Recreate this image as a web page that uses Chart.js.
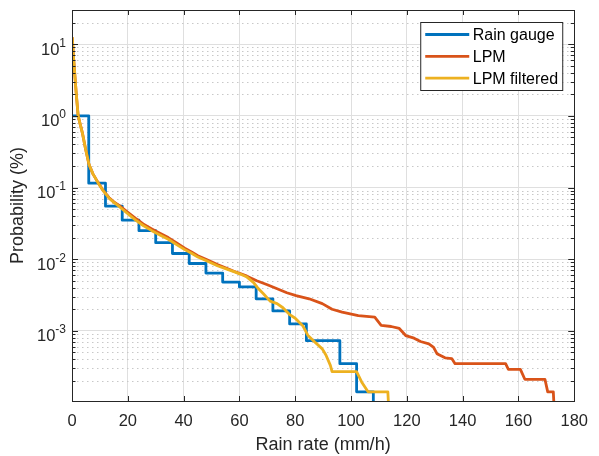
<!DOCTYPE html>
<html>
<head>
<meta charset="utf-8">
<script src="https://cdn.jsdelivr.net/npm/chart.js@4.4.1/dist/chart.umd.min.js"></script>
<style>
  html, body { margin: 0; padding: 0; background: #fff; }
  canvas { display: block; }
</style>
</head>
<body>
<canvas id="probChart" width="599" height="456"></canvas>
<script>
// rain gauge: 0.1 mm tips per minute -> 6 mm/h bins
const gaugeRate = [0, 6, 12, 18, 24, 30, 36, 42, 48, 54, 60, 66, 72, 78, 84, 96, 102, 108];
const gaugeProb = [1.0, 0.115, 0.055, 0.035, 0.025, 0.017, 0.012, 0.0087, 0.0064, 0.0048, 0.0041, 0.0028,
  0.0019, 0.00125, 0.00073, 0.000348, 0.000141, 0.00007];

// laser precipitation monitor, raw
const lpmRate = [0.1, 0.5, 1.0, 1.5, 2.2, 3.0, 3.8, 4.9, 6.1, 7.5, 9.3, 11, 13.3, 15, 17, 20, 22.8, 25.5,
  28.6, 31.5, 34.5, 37.5, 40.4, 43, 45.1, 48, 52.1, 55, 58, 60.3, 62.7, 66.2, 70, 73.3, 77, 80.3, 85,
  89.7, 93.2, 96.8, 102.6, 108.5, 110.8, 114.4, 117.3, 119.6, 122.6, 124.9, 127.9, 129.6, 130.8, 133.7,
  136.1, 137.3, 155.4, 156.4, 160.7, 162.3, 169.5, 170.5, 172.5, 172.9];
const lpmProb = [12.5, 7.0, 3.8, 2.1, 1.0, 0.75, 0.56, 0.34, 0.21, 0.155, 0.118, 0.093, 0.072, 0.063, 0.056,
  0.045, 0.037, 0.031, 0.0265, 0.023, 0.020, 0.0168, 0.0142, 0.0125, 0.0112, 0.0100, 0.0084, 0.0076,
  0.0068, 0.0063, 0.0058, 0.0050, 0.0044, 0.0039, 0.0034, 0.0031, 0.0028, 0.0024, 0.0020, 0.00182,
  0.00163, 0.00155, 0.00119, 0.00115, 0.00108, 0.00086, 0.00079, 0.00071, 0.00066, 0.00059, 0.00048,
  0.00042, 0.00041, 0.000348, 0.000348, 0.00029, 0.00029, 0.000211, 0.000211, 0.000141, 0.000141, 0.00007];

// laser precipitation monitor, filtered
const filtRate = [0.1, 0.5, 1.0, 1.5, 2.2, 3.0, 3.8, 4.9, 6.1, 7.5, 9.3, 11, 13.3, 15, 17, 20, 22.8, 25.5,
  28.6, 31.5, 34.5, 37.5, 40.4, 43, 45.1, 48, 52.1, 55, 58, 60.3, 62.5, 65.1, 66.5, 68.6, 71, 73.5, 75.6,
  77.9, 80, 82.7, 84.5, 87, 89.7, 91, 92.6, 93.2, 102, 103.8, 106.1, 113.2, 113.6];
const filtProb = [12.5, 7.0, 3.8, 2.1, 1.0, 0.75, 0.56, 0.34, 0.21, 0.155, 0.117, 0.092, 0.071, 0.062, 0.054,
  0.043, 0.035, 0.0295, 0.025, 0.0218, 0.019, 0.016, 0.0136, 0.012, 0.0107, 0.0096, 0.0081, 0.0074,
  0.0067, 0.0062, 0.0057, 0.0047, 0.0040, 0.0033, 0.0026, 0.0024, 0.0021, 0.0017, 0.0015, 0.00118,
  0.00087, 0.0007, 0.00056, 0.00046, 0.00033, 0.00027, 0.00027, 0.000194, 0.000141, 0.000141, 0.00007];

const xTicks = [0, 20, 40, 60, 80, 100, 120, 140, 160, 180];
const yDecades = [-3, -2, -1, 0, 1];

const ink = '#262626';
const fam = '"Liberation Sans", Arial, Helvetica, sans-serif';
const pts = (xs, ys) => xs.map((x, i) => ({ x: x, y: ys[i] }));
const isDecade = v => Math.abs(Math.log10(v) - Math.round(Math.log10(v))) < 1e-9;

// box, inward ticks, dotted minor grid, exponent labels and legend
const matlabAxes = {
  id: 'matlabAxes',
  beforeDatasetsDraw(chart) {
    const { ctx, chartArea: a, scales: { y } } = chart;
    ctx.save();
    ctx.strokeStyle = '#c8c8c8';
    ctx.lineWidth = 1;
    ctx.setLineDash([1.5, 3.5]);
    for (let e = -4; e <= 1; e++) {
      for (let m = 2; m <= 9; m++) {
        const v = m * Math.pow(10, e);
        if (v <= y.min || v >= y.max) continue;
        const py = Math.round(y.getPixelForValue(v)) + 0.5;
        ctx.beginPath();
        ctx.moveTo(a.left, py);
        ctx.lineTo(a.right, py);
        ctx.stroke();
      }
    }
    ctx.restore();
  },
  afterDatasetsDraw(chart) {
    const { ctx, chartArea: a, scales: { x, y } } = chart;
    ctx.save();
    ctx.strokeStyle = ink;
    ctx.lineWidth = 1;
    ctx.beginPath();
    xTicks.forEach(t => {
      const px = Math.round(x.getPixelForValue(t)) + 0.5;
      ctx.moveTo(px, a.bottom); ctx.lineTo(px, a.bottom - 5);
      ctx.moveTo(px, a.top); ctx.lineTo(px, a.top + 5);
    });
    for (let e = -4; e <= 1; e++) {
      for (let m = 1; m <= 9; m++) {
        const v = m * Math.pow(10, e);
        if (v <= y.min || v >= y.max) continue;
        const len = m === 1 ? 6 : 3.5;
        const py = Math.round(y.getPixelForValue(v)) + 0.5;
        ctx.moveTo(a.left, py); ctx.lineTo(a.left + len, py);
        ctx.moveTo(a.right, py); ctx.lineTo(a.right - len, py);
      }
    }
    ctx.stroke();
    ctx.strokeRect(Math.round(a.left) + 0.5, Math.round(a.top) + 0.5,
      Math.round(a.right - a.left), Math.round(a.bottom - a.top));
    ctx.restore();
  },
  afterDraw(chart) {
    const { ctx, chartArea: a, scales: { y } } = chart;
    ctx.save();
    ctx.fillStyle = ink;
    ctx.textAlign = 'left';
    ctx.textBaseline = 'alphabetic';
    const right = a.left - 6;
    yDecades.forEach(d => {
      const py = y.getPixelForValue(Math.pow(10, d));
      const exp = String(d);
      ctx.font = '12px ' + fam;
      const ew = ctx.measureText(exp).width;
      ctx.fillText(exp, right - ew, py + 2.5);
      ctx.font = '16.5px ' + fam;
      const bw = ctx.measureText('10').width;
      ctx.fillText('10', right - ew - bw, py + 10.5);
    });

    // legend
    const lx = a.right - 154, ly = a.top + 12, lw = 142, lh = 68;
    ctx.fillStyle = '#fff';
    ctx.fillRect(lx, ly, lw, lh);
    ctx.strokeStyle = ink;
    ctx.lineWidth = 1;
    ctx.strokeRect(lx + 0.5, ly + 0.5, lw, lh);
    ctx.font = '16px ' + fam;
    chart.data.datasets.forEach((ds, i) => {
      const cy = ly + 12.5 + i * 21.8;
      ctx.strokeStyle = ds.borderColor;
      ctx.lineWidth = 2.8;
      ctx.beginPath();
      ctx.moveTo(lx + 5, cy);
      ctx.lineTo(lx + 49, cy);
      ctx.stroke();
      ctx.fillStyle = '#000';
      ctx.fillText(ds.label, lx + 52.5, cy + 5.8);
    });
    ctx.restore();
  }
};

new Chart(document.getElementById('probChart'), {
  type: 'line',
  data: {
    datasets: [
      { label: 'Rain gauge', data: pts(gaugeRate, gaugeProb), borderColor: '#0072BD', stepped: true, order: 2 },
      { label: 'LPM', data: pts(lpmRate, lpmProb), borderColor: '#D95319', order: 1 },
      { label: 'LPM filtered', data: pts(filtRate, filtProb), borderColor: '#EDB120', order: 0 }
    ]
  },
  options: {
    responsive: false,
    animation: false,
    parsing: false,
    layout: { padding: { top: 10, right: 16, left: 0, bottom: 0 } },
    elements: {
      line: { borderWidth: 2.8, tension: 0, fill: false, borderJoinStyle: 'round' },
      point: { radius: 0, hoverRadius: 0 }
    },
    scales: {
      x: {
        type: 'linear', min: 0, max: 180,
        ticks: { stepSize: 20, color: ink, font: { family: fam, size: 16.5 }, padding: 11, maxRotation: 0, autoSkip: false },
        grid: { color: '#dfdfdf', lineWidth: 1, drawTicks: false },
        border: { display: false },
        title: { display: true, text: 'Rain rate (mm/h)', color: ink, font: { family: fam, size: 18 }, padding: { top: 0, bottom: 0 } },
        afterFit: s => { s.height = 55; }
      },
      y: {
        type: 'logarithmic', min: 1.05e-4, max: 30,
        ticks: { display: false },
        grid: { color: c => (c.tick && isDecade(c.tick.value)) ? '#dfdfdf' : 'rgba(0,0,0,0)', lineWidth: 1, drawTicks: false },
        border: { display: false },
        title: { display: true, text: 'Probability (%)', color: ink, font: { family: fam, size: 18 }, padding: { top: 7, bottom: 0 } },
        afterFit: s => { s.width = 72; }
      }
    },
    plugins: {
      legend: { display: false },
      tooltip: { enabled: false }
    }
  },
  plugins: [matlabAxes]
});
</script>
</body>
</html>
